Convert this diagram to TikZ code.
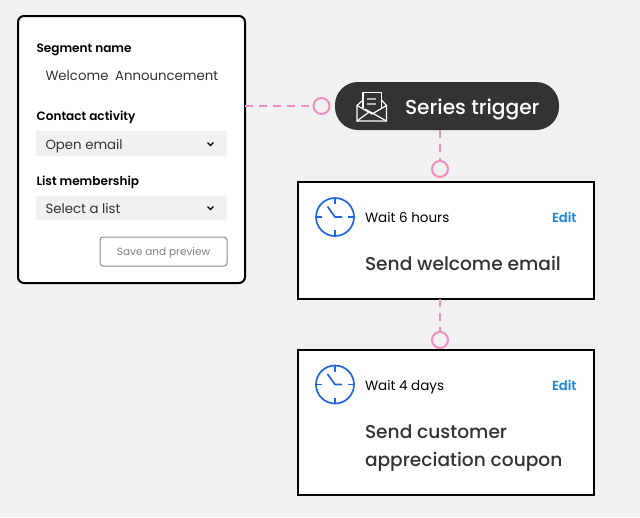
\documentclass[tikz,border=0pt]{standalone}
\usepackage{fontspec}
\setmainfont{Poppins}
\newfontfamily\medfont{Poppins Medium}
\newfontfamily\strongfont{Poppins SemiBold}
\definecolor{bgc}{HTML}{F1F1F1}
\definecolor{pink}{HTML}{F08FBE}
\definecolor{ink}{HTML}{333333}
\definecolor{clockblue}{HTML}{1F66E5}
\definecolor{editblue}{HTML}{1486E6}
\definecolor{fieldc}{HTML}{F1F1F1}
\tikzset{
  every node/.style={inner sep=0pt,outer sep=0pt},
  card/.style={draw=black,line width=2pt,fill=white,anchor=north west},
  field/.style={fill=fieldc,anchor=north west,minimum width=191pt,minimum height=25pt},
  dot/.style={circle,draw=pink,line width=2pt,fill=bgc,minimum size=16pt},
  link/.style={draw=pink,line width=2pt,dash pattern=on 8pt off 6pt},
  lbl/.style={anchor=base west,font=\strongfont\fontsize{12.1}{12}\selectfont,text=black},
  val/.style={anchor=base west,font=\fontsize{13.3}{14}\selectfont,text=ink},
  wait/.style={anchor=base west,font=\fontsize{13.5}{13.5}\selectfont,text=black},
  head/.style={anchor=base west,font=\medfont\fontsize{18.6}{18}\selectfont,text=ink},
  edit/.style={anchor=base west,font=\strongfont\fontsize{13.1}{12.5}\selectfont,text=editblue},
  clockline/.style={draw=clockblue,line width=1.7pt},
  chev/.style={draw=black,line width=1.4pt},
  iconline/.style={draw=white,line width=1.2pt,line join=miter},
}
\begin{document}
\begin{tikzpicture}[x=1pt,y=-1pt]
\useasboundingbox (0,0) rectangle (640,517);
\fill[bgc] (0,0) rectangle (640,517);
\node[card,rounded corners=6pt,minimum width=227pt,minimum height=267pt] (panel) at (18,16) {};
\node[card,minimum width=296pt,minimum height=117pt] (card1) at (298,182) {};
\node[card,minimum width=296pt,minimum height=145pt] (card2) at (298,350) {};
\node[fill=ink,rounded corners=23pt,minimum width=224pt,minimum height=48pt,anchor=north west] (pill) at (335,82) {};
\node[dot] (c1) at (321.5,106) {};
\node[dot] (c2) at (440,169) {};
\node[dot] (c3) at (440,340) {};
\draw[link] (panel.east |- c1) -- (c1.west);
\draw[link] (c2 |- pill.south) -- (c2.north);
\draw[link] (c3 |- card1.south) -- (c3.north);
% panel contents
\node[lbl] (segname) at (36.5,52.5) {Segment name};
\node[val] (welcome) at (45.5,80) {Welcome\hspace{3pt} Announcement};
\node[lbl] (contact) at (36.5,120.5) {Contact activity};
\node[field] (f1) at (36,131) {};
\node[val] (open) at (45.5,149) {Open email};
\node[lbl] (listm) at (36.5,185.5) {List membership};
\node[field,minimum height=24pt] (f2) at (36,196) {};
\node[val] (select) at (45.5,213) {Select a list};
\draw[chev] (207.5,142.5) -- (210.5,145.5) -- (213.5,142.5);
\draw[chev] (207.5,206.5) -- (210.5,209.5) -- (213.5,206.5);
\node[draw=gray!90,line width=1pt,rounded corners=3pt,fill=white,minimum width=127pt,minimum height=29pt,anchor=north west] (save) at (100,237) {};
\node[font=\fontsize{10.5}{10.5}\selectfont,text=gray] (savet) at (163.5,253) {Save and preview};
% pill contents
\node[anchor=base west,font=\medfont\fontsize{20.2}{20}\selectfont,text=white] (trigger) at (405,114) {Series trigger};
\draw[iconline] (363,108) -- (363,92.5) -- (381.5,92.5) -- (381.5,108);
\draw[iconline] (363,100) -- (357,105.5) -- (357,121) -- (386.5,121) -- (386.5,105.5) -- (381.5,100);
\draw[iconline] (357,105.5) -- (372,114) -- (386.5,105.5);
\draw[iconline] (357,121) -- (369,112);
\draw[iconline] (386.5,121) -- (365,109);
\draw[draw=gray!60,line width=1.2pt] (367,99) -- (376,99) (367,104) -- (376,104);
% card 1
\node[circle,draw=clockblue,line width=1.7pt,minimum size=38pt] (clock1) at (335,217) {};
\draw[clockline] (clock1.north) -- +(0,6) (clock1.south) -- +(0,-6) (clock1.west) -- +(6,0) (clock1.east) -- +(-6,0);
\draw[clockline] (327.5,206.5) -- (335,217) -- (342,217);
\node[wait] (w1) at (365,222) {Wait 6 hours};
\node[edit] (e1) at (552,222) {Edit};
\node[head] (s1) at (365,270.5) {Send welcome email};
% card 2
\node[circle,draw=clockblue,line width=1.7pt,minimum size=38pt] (clock2) at (335,384.5) {};
\draw[clockline] (clock2.north) -- +(0,6) (clock2.south) -- +(0,-6) (clock2.west) -- +(6,0) (clock2.east) -- +(-6,0);
\draw[clockline] (327.5,374) -- (335,384.5) -- (342,384.5);
\node[wait] (w2) at (365,390) {Wait 4 days};
\node[edit] (e2) at (552,390) {Edit};
\node[head] (s2) at (365,438) {Send customer};
\node[head] (s3) at (365,466) {appreciation coupon};
\end{tikzpicture}
\end{document}
